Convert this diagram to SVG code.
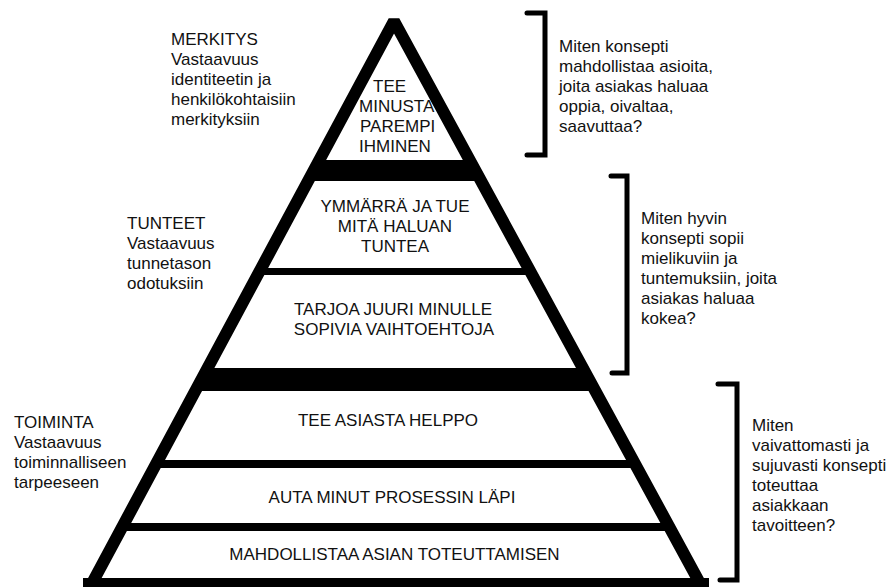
<svg xmlns="http://www.w3.org/2000/svg" width="892" height="587" viewBox="0 0 892 587">
<style>
text{font-family:"Liberation Sans",Arial,sans-serif;font-size:17px;fill:#111}
.c{text-anchor:middle}
.edge{fill:none;stroke:#000;stroke-width:12;stroke-linejoin:bevel}
.br{fill:none;stroke:#000;stroke-width:5;stroke-linecap:round;stroke-linejoin:miter}
.bar{fill:#000}
.thin{stroke:#000;stroke-width:8}
</style>
<rect width="892" height="587" fill="#fff"/>
<g id="pyramid">
  <path class="edge" d="M90,587 L394,21 L702,587"/>
  <polygon class="bar" points="319.4,160 469.6,160 481,181 308.1,181"/>
  <polygon class="bar" points="207.7,368 582.8,368 595.3,391 195.3,391"/>
  <line class="thin" x1="259" y1="271.5" x2="531" y2="271.5" style="stroke-width:7"/>
  <line class="thin" x1="156" y1="464" x2="635" y2="464"/>
  <line class="thin" x1="122" y1="527" x2="669" y2="527"/>
  <rect class="bar" x="83" y="578" width="626" height="9"/>
</g>
<g id="level-merkitys">
  <text x="373" y="92">TEE</text>
  <text x="359" y="112">MINUSTA</text>
  <text x="360" y="132">PAREMPI</text>
  <text x="359" y="152">IHMINEN</text>
</g>
<g id="level-ymmarra">
  <text class="c" x="395" y="212">YMMÄRRÄ JA TUE</text>
  <text class="c" x="395" y="232">MITÄ HALUAN</text>
  <text class="c" x="395" y="252">TUNTEA</text>
</g>
<g id="level-tarjoa">
  <text class="c" x="393" y="315">TARJOA JUURI MINULLE</text>
  <text class="c" x="394" y="335">SOPIVIA VAIHTOEHTOJA</text>
</g>
<g id="level-helppo">
  <text class="c" x="388" y="426">TEE ASIASTA HELPPO</text>
</g>
<g id="level-auta">
  <text class="c" x="392" y="503">AUTA MINUT PROSESSIN LÄPI</text>
</g>
<g id="level-mahdollistaa">
  <text class="c" x="394.5" y="560">MAHDOLLISTAA ASIAN TOTEUTTAMISEN</text>
</g>
<g id="label-merkitys">
  <text x="171" y="45">MERKITYS</text>
  <text x="171" y="65">Vastaavuus</text>
  <text x="171" y="85">identiteetin ja</text>
  <text x="171" y="105">henkilökohtaisiin</text>
  <text x="171" y="125">merkityksiin</text>
</g>
<g id="label-tunteet">
  <text x="127" y="229">TUNTEET</text>
  <text x="127" y="249">Vastaavuus</text>
  <text x="127" y="269">tunnetason</text>
  <text x="127" y="289">odotuksiin</text>
</g>
<g id="label-toiminta">
  <text x="14" y="428">TOIMINTA</text>
  <text x="14" y="448">Vastaavuus</text>
  <text x="14" y="468">toiminnalliseen</text>
  <text x="14" y="488">tarpeeseen</text>
</g>
<g id="question-1">
  <text x="559" y="52">Miten konsepti</text>
  <text x="559" y="72">mahdollistaa asioita,</text>
  <text x="559" y="92">joita asiakas haluaa</text>
  <text x="559" y="112">oppia, oivaltaa,</text>
  <text x="559" y="132">saavuttaa?</text>
</g>
<g id="question-2">
  <text x="641" y="224">Miten hyvin</text>
  <text x="641" y="244">konsepti sopii</text>
  <text x="641" y="264">mielikuviin ja</text>
  <text x="641" y="284">tuntemuksiin, joita</text>
  <text x="641" y="304">asiakas haluaa</text>
  <text x="641" y="324">kokea?</text>
</g>
<g id="question-3">
  <text x="752" y="431">Miten</text>
  <text x="752" y="451">vaivattomasti ja</text>
  <text x="752" y="471">sujuvasti konsepti</text>
  <text x="752" y="491">toteuttaa</text>
  <text x="752" y="511">asiakkaan</text>
  <text x="752" y="531">tavoitteen?</text>
</g>
<g id="connectors">
  <path class="br" d="M527,13 H545 V155 H527"/>
  <path class="br" d="M611,176 H627 V373 H612"/>
  <path class="br" d="M718,384 H737 V580 H720"/>
</g>
</svg>
